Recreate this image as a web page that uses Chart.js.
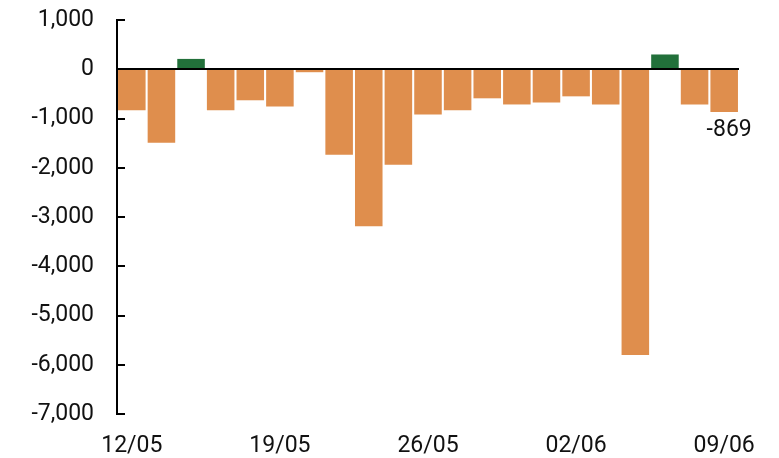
<!DOCTYPE html>
<html lang="en">
<head>
    <meta charset="UTF-8" />
    <title>Chart</title>
    <script src="https://cdn.jsdelivr.net/npm/chart.js"></script>
    <style>
        html, body { margin: 0; padding: 0; background: #fff; }
        #box { width: 779px; height: 458px; position: relative; }
    </style>
</head>
<body>
    <div id="box"><canvas id="barChart"></canvas></div>

    <script>
        // dias uteis (dd/mm)
        const datas = [
            '12/05', '13/05', '14/05', '15/05', '16/05',
            '19/05', '20/05', '21/05', '22/05', '23/05',
            '26/05', '27/05', '28/05', '29/05', '30/05',
            '02/06', '03/06', '04/06', '05/06', '06/06',
            '09/06'
        ];
        const valores = [
            -830, -1490, 210, -835, -630,
            -755, -60, -1735, -3190, -1940,
            -920, -835, -590, -715, -675,
            -550, -715, -5800, 300, -715,
            -869
        ];
        const rotulosX = ['12/05', '19/05', '26/05', '02/06', '09/06'];
        const ticksY = [1000, 0, -1000, -2000, -3000, -4000, -5000, -6000, -7000];

        const laranja = '#DF8E4D';
        const verde = '#22703A';

        // linha do zero, ticks para dentro e rotulo do ultimo valor
        const extras = {
            id: 'extras',
            afterDatasetsDraw(chart) {
                const ctx = chart.ctx;
                const y = chart.scales.y;
                const area = chart.chartArea;
                ctx.save();
                ctx.strokeStyle = '#000';
                ctx.lineWidth = 2;
                ticksY.forEach(v => {
                    const py = Math.round(y.getPixelForValue(v));
                    ctx.beginPath();
                    ctx.moveTo(area.left, py);
                    ctx.lineTo(area.left + 8, py);
                    ctx.stroke();
                });
                const y0 = Math.round(y.getPixelForValue(0));
                ctx.beginPath();
                ctx.moveTo(area.left, y0);
                ctx.lineTo(area.right, y0);
                ctx.stroke();

                const ultimo = chart.getDatasetMeta(0).data[valores.length - 1];
                ctx.fillStyle = '#111';
                ctx.font = '23px Roboto';
                ctx.textAlign = 'center';
                ctx.textBaseline = 'top';
                ctx.fillText(valores[valores.length - 1].toString(), ultimo.x + 5, ultimo.y + 7);
                ctx.restore();
            }
        };

        new Chart(document.getElementById('barChart'), {
            type: 'bar',
            data: {
                labels: datas,
                datasets: [{
                    data: valores,
                    backgroundColor: valores.map(v => v >= 0 ? verde : laranja),
                    barPercentage: 0.93,
                    categoryPercentage: 1
                }]
            },
            plugins: [extras],
            options: {
                responsive: true,
                maintainAspectRatio: false,
                animation: false,
                layout: { padding: { top: 20, right: 40, left: 0, bottom: 0 } },
                plugins: {
                    legend: { display: false },
                    tooltip: { enabled: false }
                },
                scales: {
                    x: {
                        grid: { display: false, drawTicks: false },
                        border: { display: false },
                        afterFit: s => { s.height = 44; },
                        ticks: {
                            autoSkip: false,
                            maxRotation: 0,
                            padding: 18,
                            color: '#111',
                            font: { family: 'Roboto', size: 23 },
                            callback: function (value, i) {
                                const l = datas[i];
                                return rotulosX.includes(l) ? l : '';
                            }
                        }
                    },
                    y: {
                        min: -7000,
                        max: 1000,
                        // ticks desenhados pelo plugin; tickLength so afasta os rotulos
                        grid: { display: false, drawTicks: true, tickLength: 23 },
                        border: { display: true, color: '#000', width: 2 },
                        afterFit: s => { s.width = 117; },
                        ticks: {
                            stepSize: 1000,
                            padding: 0,
                            color: '#111',
                            font: { family: 'Roboto', size: 23 }
                        }
                    }
                }
            }
        });
    </script>
</body>
</html>
